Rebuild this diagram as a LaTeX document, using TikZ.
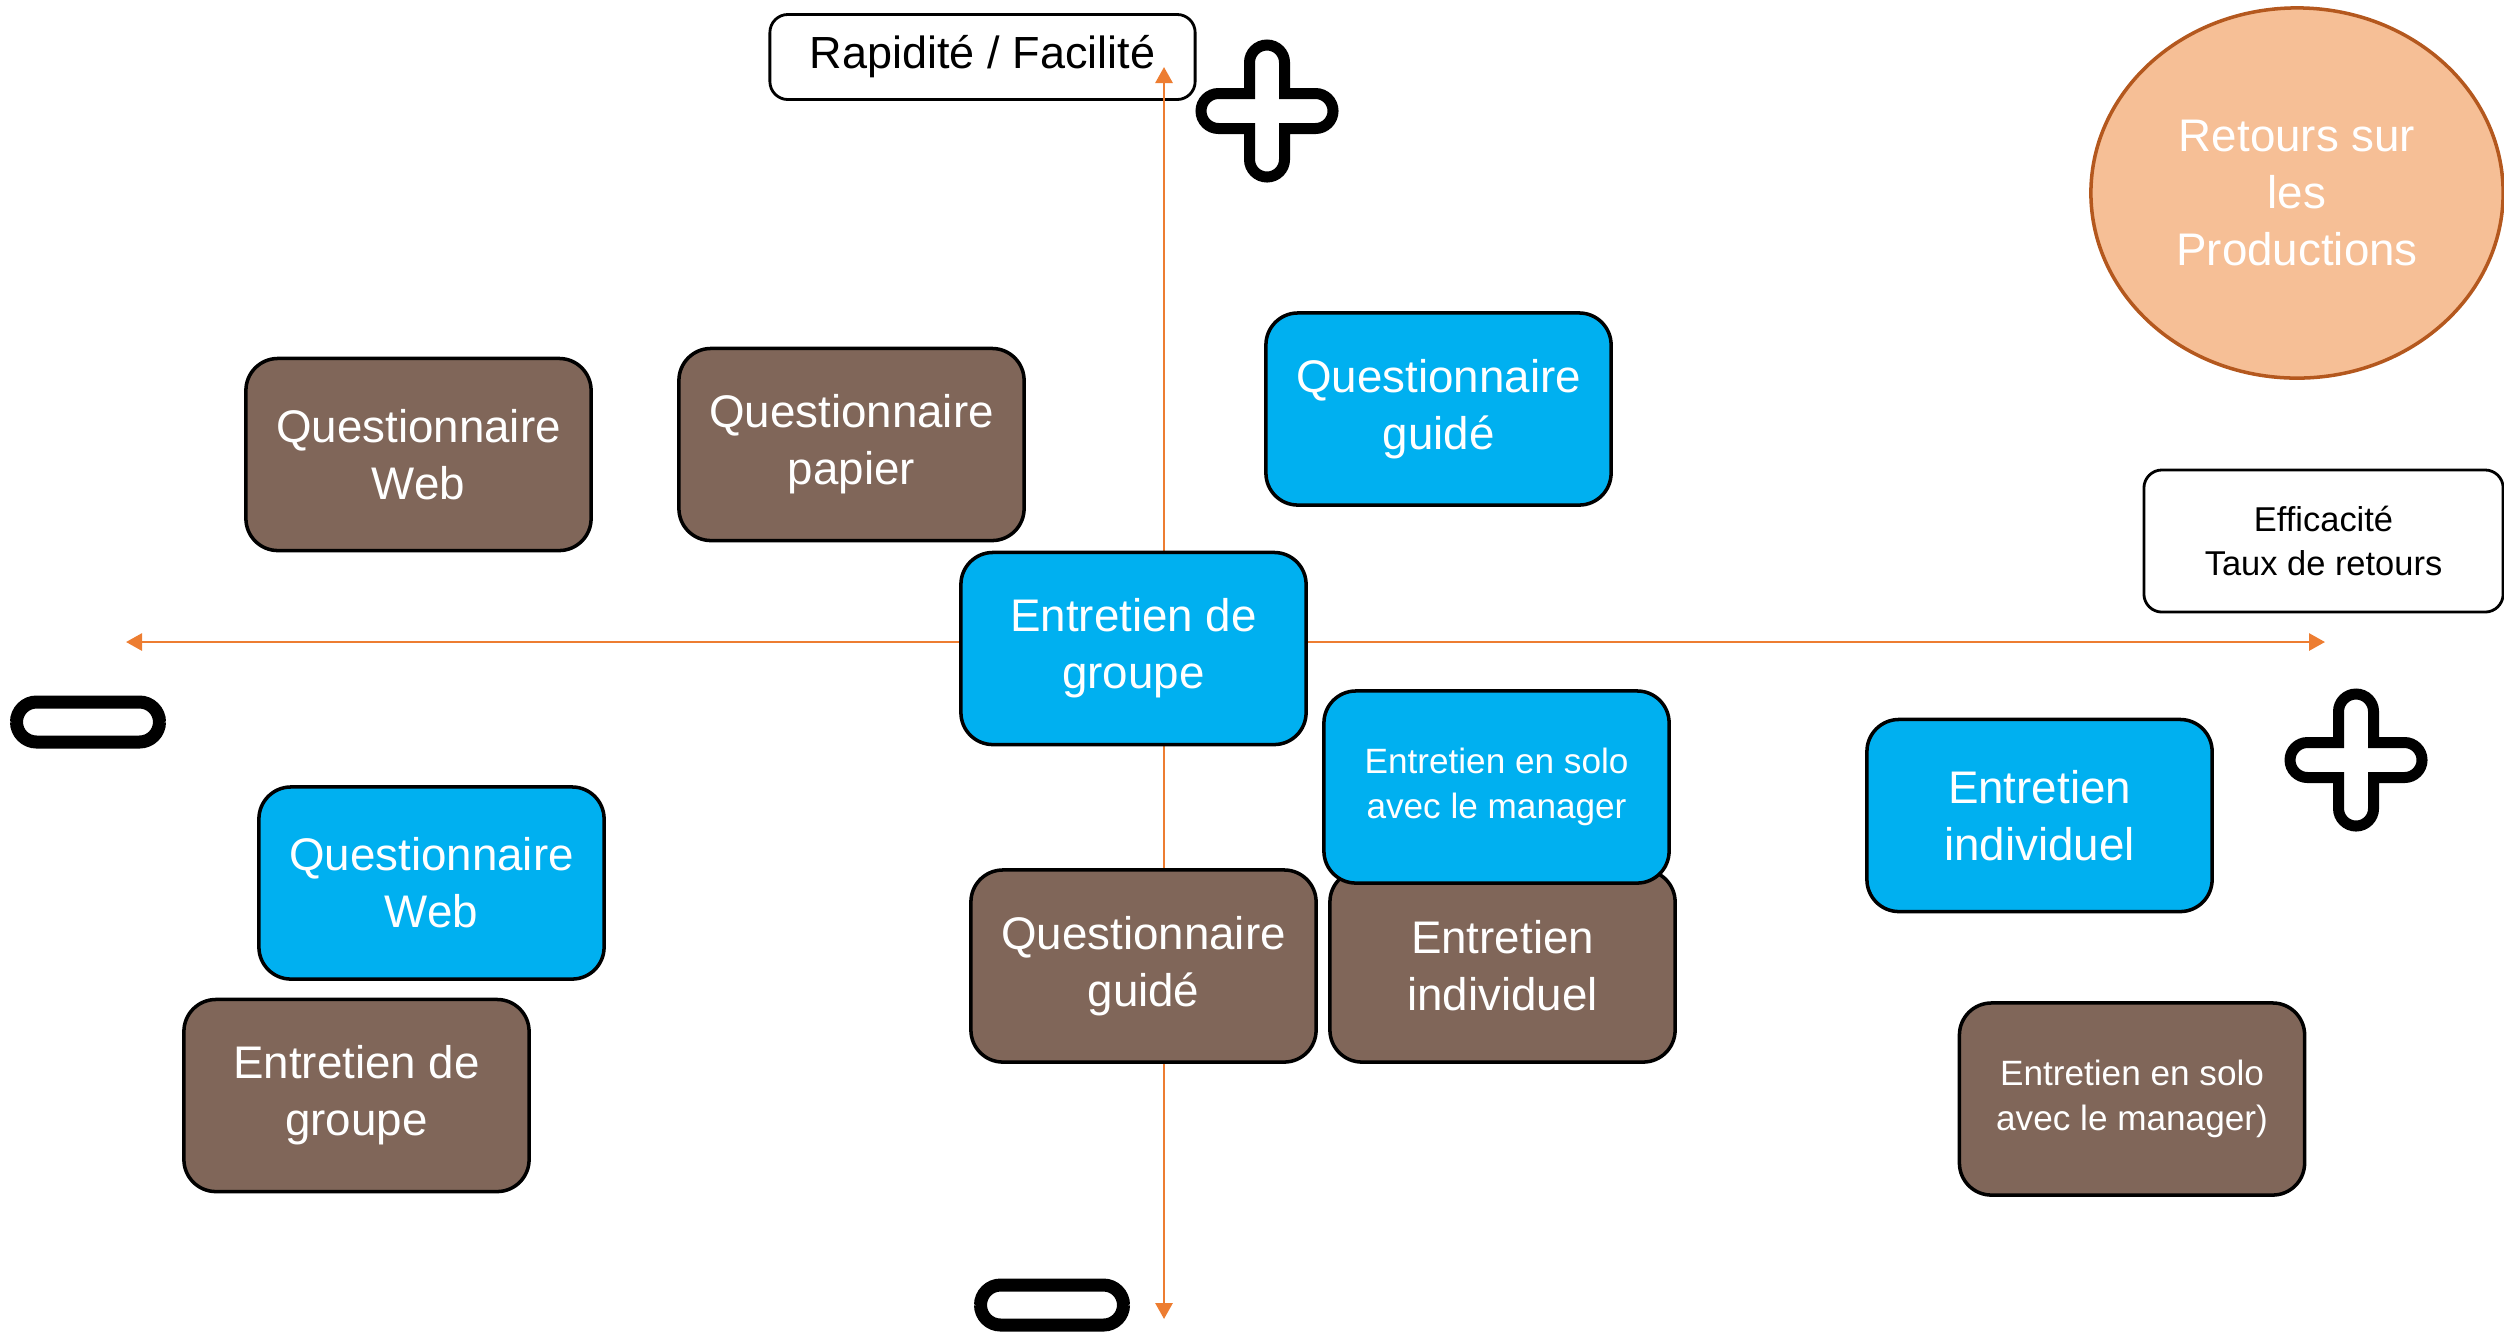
\documentclass[tikz,border=0pt]{standalone}
\usepackage{fontspec}
\setmainfont{Liberation Sans}
\usetikzlibrary{arrows.meta,shapes.geometric}
\definecolor{axeorange}{HTML}{ED7D31}
\definecolor{boxblue}{HTML}{00B0F0}
\definecolor{boxbrown}{HTML}{806659}
\definecolor{peach}{HTML}{F6BF96}
\definecolor{rust}{HTML}{B4581E}
\tikzset{
  methode/.style={draw=black,line width=1pt,rounded corners=0.32cm,text=white,
    minimum width=3.45cm,minimum height=1.92cm,align=center,inner sep=0pt,
    font=\fontsize{13}{16.2}\selectfont},
  bleu/.style={methode,fill=boxblue},
  brun/.style={methode,fill=boxbrown},
  petit/.style={font=\fontsize{10}{13}\selectfont},
  titre/.style={draw=black,line width=0.8pt,rounded corners=0.18cm,fill=white,align=center,inner sep=0pt},
  axe/.style={draw=axeorange,line width=0.8pt,{Triangle[length=0.16cm,width=0.17cm]}-{Triangle[length=0.16cm,width=0.17cm]}},
  pics/signeplus/.style={code={
    \draw[line width=0.11cm] (17.5,17.5) -- (48.5,17.5) arc (90:-90:17.5) -- (17.5,-17.5)
      -- (17.5,-48.5) arc (0:-180:17.5) -- (-17.5,-17.5) -- (-48.5,-17.5) arc (270:90:17.5)
      -- (-17.5,17.5) -- (-17.5,48.5) arc (180:0:17.5) -- cycle;}},
  pics/signemoins/.style={code={
    \draw[line width=0.13cm,rounded corners=0.2cm] (-71.5,-20) rectangle (71.5,20);}}
}
\begin{document}
\begin{tikzpicture}[x=0.01cm,y=-0.01cm]
\useasboundingbox (0,0) rectangle (2504,1332);
% titres des axes
\node[titre,minimum width=4.25cm,minimum height=0.85cm,font=\fontsize{12.8}{15}\selectfont] (rapidite) at (982.5,57) {Rapidité / Facilité};
\node[titre,minimum width=3.59cm,minimum height=1.42cm,font=\fontsize{9.8}{12.7}\selectfont] (efficacite) at (2323.5,541) {Efficacité\\Taux de retours};
\node[ellipse,draw=rust,line width=1pt,fill=peach,minimum width=4.12cm,minimum height=3.70cm,inner sep=0pt,
  text=white,align=center,font=\fontsize{13}{16.2}\selectfont] (retours) at (2297,193) {Retours sur\\les\\Productions};
% axes
\coordinate (gauche) at (126,642);
\coordinate (droite) at (2325,642);
\coordinate (haut) at (1164,67);
\coordinate (bas) at (1164,1319);
\draw[axe] (gauche) -- (droite);
\draw[axe] (bas) -- (haut);
% signes
\pic at (1267,111) {signeplus};
\pic at (2356,760) {signeplus};
\pic at (88,722) {signemoins};
\pic at (1052,1305) {signemoins};
% methodes
\node[brun] (qwebB) at (418.5,454.5) {Questionnaire\\Web};
\node[brun] (qpapierB) at (851.5,444.5) {Questionnaire\\papier};
\node[bleu] (qguideA) at (1438.5,409) {Questionnaire\\guidé};
\node[bleu] (egroupeA) at (1133.5,648.5) {Entretien de\\groupe};
\node[brun] (qguideB) at (1143.5,966) {Questionnaire\\guidé};
\node[brun] (eindivB) at (1502.5,966) {Entretien\\individuel};
\node[bleu,petit] (esoloA) at (1496.5,787) {Entretien en solo\\avec le manager};
\node[bleu] (eindivA) at (2039.5,815.5) {Entretien\\individuel};
\node[bleu] (qwebA) at (431.5,883) {Questionnaire\\Web};
\node[brun] (egroupeB) at (356.5,1095.5) {Entretien de\\groupe};
\node[brun,petit] (esoloB) at (2132,1099) {Entretien en solo\\avec le manager)};
\end{tikzpicture}
\end{document}
